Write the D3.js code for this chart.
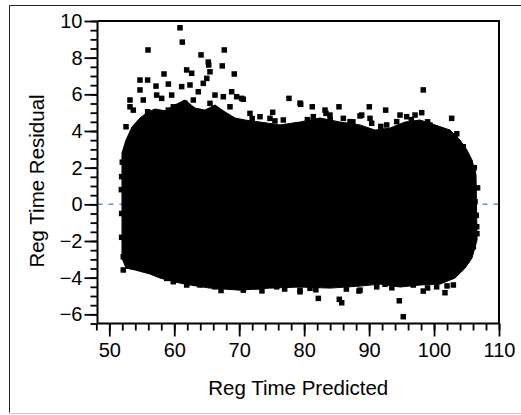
<!DOCTYPE html>
<html>
<head>
<meta charset="utf-8">
<script src="https://cdn.jsdelivr.net/npm/d3@7"></script>
<style>
  html, body { margin: 0; padding: 0; background: #fff; }
  svg { display: block; }
  text { font-family: "Liberation Sans", Arial, sans-serif; fill: #000; }
</style>
</head>
<body>
<svg id="chart" width="521" height="415"></svg>
<script>
// ---- Data ----
const xTicks = [50, 60, 70, 80, 90, 100, 110];
const yTicks = [-6, -4, -2, 0, 2, 4, 6, 8, 10];
const xTitle = "Reg Time Predicted";
const yTitle = "Reg Time Residual";

// Dense core of the scatter: upper and lower boundary of the solid black mass
const upperPredicted = [51.95, 52.57, 53.49, 54.72, 55.96, 57.03, 58.57, 60.11, 61.65, 63.19, 64.73, 66.27, 67.81, 69.35, 70.89, 73.20, 76.28, 79.36, 82.44, 85.52, 88.60, 90.91, 93.22, 95.53, 97.84, 100.15, 102.46, 104.00, 105.07, 105.84, 106.46];
const upperResidual  = [2.80, 3.51, 4.22, 4.71, 5.04, 5.20, 5.10, 5.42, 5.69, 5.25, 5.14, 5.42, 5.04, 4.71, 4.60, 4.49, 4.33, 4.49, 4.71, 4.49, 4.33, 4.05, 4.16, 4.49, 4.60, 4.33, 4.05, 3.51, 2.96, 2.42, 1.60];
const lowerPredicted = [51.95, 52.57, 53.95, 56.26, 57.80, 60.11, 62.42, 65.50, 70.12, 74.74, 79.36, 83.98, 88.60, 91.68, 94.76, 97.84, 100.92, 103.23, 104.77, 105.84, 106.62];
const lowerResidual  = [-2.93, -3.48, -3.58, -3.80, -4.02, -4.24, -4.40, -4.57, -4.68, -4.57, -4.51, -4.57, -4.46, -4.35, -4.51, -4.40, -4.35, -4.02, -3.48, -2.93, -1.95];

// Individual points outside / at the edge of the dense core
const pointPredicted = [
  60.88, 61.24, 55.96, 67.70, 64.12, 65.24, 65.30, 67.39, 61.91, 62.68, 58.42, 69.24, 65.50, 54.72, 55.90, 65.01, 59.09, 57.19, 54.72, 53.18, 55.23, 52.57, 54.06, 77.66, 79.47, 75.15, 70.38, 59.09, 68.84,
  98.34, 102.71, 81.25, 85.36, 90.03, 92.55, 94.76, 98.10, 79.36, 83.36, 88.60, 90.14,
  57.29, 58.06, 59.60, 61.14, 62.42, 63.70, 64.47, 66.27, 67.55, 69.61, 70.63, 53.69, 53.18, 55.90, 59.85, 61.65, 62.93, 65.50, 68.58, 71.66, 73.20, 74.74, 76.79, 78.85,
  81.41, 83.21, 83.98, 86.03, 87.06, 88.86, 90.40, 92.71, 94.25, 95.79, 97.07, 99.37, 100.92, 101.94, 103.23, 104.50,
  82.18, 85.41, 85.78, 94.65, 95.26, 88.44, 98.34, 101.68, 79.36, 92.45, 52.15, 58.57,
  53.69, 54.72, 57.29, 58.83, 59.85, 61.91, 63.96, 66.27, 68.58, 70.63, 72.69, 75.77, 79.36,
  80.90, 83.47, 88.60, 91.17, 96.81, 100.40, 102.97, 104.00, 105.02, 106.04, 106.57, 106.31, 106.04, 105.53, 51.90, 52.15,
  51.85, 51.90, 51.90, 52.00, 106.70, 106.50, 106.60, 106.20,
  67.20, 73.50, 77.00, 81.80, 86.50, 93.50, 99.00, 102.00,
  72.00, 75.50, 80.50, 84.00, 87.50, 91.80, 96.50, 99.00, 103.50
];
const pointResidual = [
  9.63, 8.85, 8.42, 8.42, 8.15, 7.76, 7.60, 7.55, 7.33, 7.15, 7.11, 7.11, 7.23, 6.78, 6.78, 6.87, 6.56, 6.45, 6.24, 5.69, 5.69, 4.23, 3.78, 5.78, 5.46, 5.02, 5.78, 5.14, 6.14,
  6.24, 4.69, 5.32, 5.32, 5.32, 5.14, 4.87, 5.00, 5.52, 4.96, 4.82, 4.69,
  5.96, 5.78, 5.96, 6.42, 6.51, 6.14, 6.60, 5.96, 5.87, 5.87, 5.73, 5.14, 5.32, 5.05, 5.32, 5.51, 5.69, 5.51, 5.32, 4.96, 4.78, 4.69, 4.60, 4.33,
  4.78, 5.14, 4.87, 4.69, 4.51, 4.87, 4.42, 4.33, 4.51, 4.78, 4.87, 4.33, 4.05, 3.96, 3.69, 3.14,
  -5.13, -5.18, -5.37, -5.26, -6.13, -4.73, -4.73, -4.82, -4.68, -4.36, -3.58, -3.76,
  -3.31, -3.40, -3.68, -4.04, -4.22, -4.40, -4.40, -4.50, -4.22, -4.68, -4.50, -4.50, -4.77,
  -4.58, -4.40, -4.68, -4.50, -4.40, -4.50, -4.40, -3.40, -3.04, -2.31, -1.22, 0.14, 1.69, 2.24, 1.51, -2.86,
  0.80, -0.50, -1.80, 2.30, 0.90, -0.60, -1.60, 2.00,
  -4.70, -4.72, -4.62, -4.66, -4.62, -4.55, -4.56, -4.45,
  4.68, 4.55, 4.62, 4.62, 4.50, 4.25, 4.62, 4.50, 3.85
];

// ---- Layout ----
const svg = d3.select("#chart");
const plot = { left: 97.5, right: 499, top: 21, bottom: 323.5 };

const x = d3.scaleLinear().domain([48.18, 110]).range([plot.left, plot.right]);
const y = d3.scaleLinear().domain([-6.5, 10]).range([plot.bottom, plot.top]);

// outer frame
svg.append("line").attr("x1", 9.5).attr("x2", 521).attr("y1", 5.5).attr("y2", 5.5).attr("stroke", "#222").attr("stroke-width", 1);
svg.append("line").attr("x1", 9.5).attr("x2", 9.5).attr("y1", 5.5).attr("y2", 412.5).attr("stroke", "#222").attr("stroke-width", 1);
svg.append("line").attr("x1", 9.5).attr("x2", 521).attr("y1", 413.5).attr("y2", 413.5).attr("stroke", "#c8c8c8").attr("stroke-width", 1);

const g = svg.append("g");

// zero reference line
g.append("line")
  .attr("x1", plot.left).attr("x2", plot.right)
  .attr("y1", y(0)).attr("y2", y(0))
  .attr("stroke", "#5b8fe6").attr("stroke-width", 1.5)
  .attr("stroke-dasharray", "5,6");

// dense core
const outline = upperPredicted.map((p, i) => [p, upperResidual[i]])
  .concat(lowerPredicted.map((p, i) => [p, lowerResidual[i]]).reverse());
g.append("path")
  .attr("d", d3.line().x(d => x(d[0])).y(d => y(d[1]))(outline) + "Z")
  .attr("fill", "#000").attr("stroke", "#000").attr("stroke-width", 1);

// individual points
const sz = 5.5;
g.selectAll("rect.pt").data(pointPredicted.map((p, i) => [p, pointResidual[i]]))
  .enter().append("rect").attr("class", "pt")
  .attr("x", d => x(d[0]) - sz / 2).attr("y", d => y(d[1]) - sz / 2)
  .attr("width", sz).attr("height", sz).attr("fill", "#000");

// frame (top & right)
svg.append("path")
  .attr("d", `M${plot.left},${plot.top}H${plot.right}V${plot.bottom}`)
  .attr("fill", "none").attr("stroke", "#000").attr("stroke-width", 2);

// axes
const yMinor = d3.range(-6.5, 10.001, 0.5);
const xMinor = d3.range(48, 110.001, 2);

const xAxisMinor = d3.axisBottom(x).tickValues(xMinor).tickSize(7).tickFormat("");
const xAxisMajor = d3.axisBottom(x).tickValues(xTicks).tickSize(13).tickPadding(6).tickFormat(d3.format("d"));
const yAxisMinor = d3.axisLeft(y).tickValues(yMinor).tickSize(7).tickFormat("");
const yAxisMajor = d3.axisLeft(y).tickValues(yTicks).tickSize(13).tickPadding(2).tickFormat(d3.format("d"));

function style(sel) {
  sel.selectAll("path.domain").attr("stroke", "#000").attr("stroke-width", 2);
  sel.selectAll(".tick line").attr("stroke", "#000").attr("stroke-width", 1.8);
  sel.selectAll("text").attr("font-size", 20).attr("font-family", "'Liberation Sans', Arial, sans-serif").attr("fill", "#000");
}

const gx = svg.append("g").attr("transform", `translate(0,${plot.bottom})`);
gx.append("g").call(xAxisMinor).call(style).select("path.domain").remove();
gx.append("g").call(xAxisMajor).call(style);
gx.selectAll("path.domain").attr("d", `M${plot.left},0H${plot.right}`);

const gy = svg.append("g").attr("transform", `translate(${plot.left},0)`);
gy.append("g").call(yAxisMinor).call(style).select("path.domain").remove();
gy.append("g").call(yAxisMajor).call(style);
gy.selectAll("path.domain").attr("d", `M0,${plot.top}V${plot.bottom}`);

// titles
svg.append("text").attr("x", (plot.left + plot.right) / 2).attr("y", 395)
  .attr("text-anchor", "middle").attr("font-size", 20.5).text(xTitle);
svg.append("text").attr("transform", `translate(44,${181}) rotate(-90)`)
  .attr("text-anchor", "middle").attr("font-size", 20.5).text(yTitle);
</script>
</body>
</html>
